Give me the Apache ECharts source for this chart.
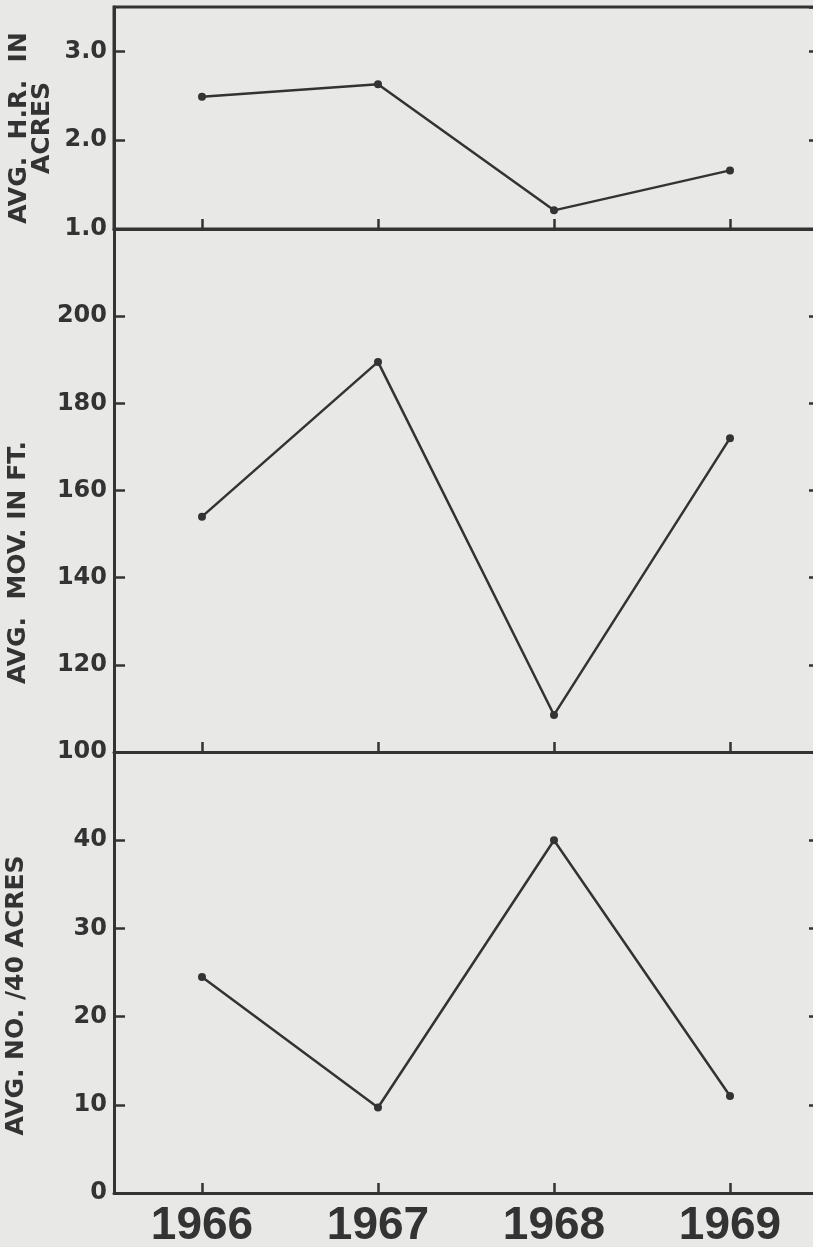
<!DOCTYPE html>
<html>
<head>
<meta charset="utf-8">
<script src="https://cdn.jsdelivr.net/npm/echarts@6/dist/echarts.min.js"></script>
<style>
html, body { margin: 0; padding: 0; background: #e8e8e6; }
#chart { width: 813px; height: 1247px; }
</style>
</head>
<body>
<div id="chart"></div>
<script>
// years on the shared x axis
var years = ['1966', '1967', '1968', '1969'];
// avg home range in acres
var homeRange = [2.49, 2.63, 1.21, 1.66];
// avg movement in ft.
var movement = [154, 189.5, 108.5, 172];
// avg number per 40 acres
var numPer40 = [24.5, 9.7, 40, 11];

var ink = '#333333';

function xAx(grid, showLabel) {
	return {
		type: 'category',
		gridIndex: grid,
		data: years,
		boundaryGap: true,
		axisLine: { lineStyle: { color: ink, width: 3 } },
		axisTick: { show: true, inside: true, alignWithLabel: true, length: 10, lineStyle: { color: ink, width: 2.5 } },
		axisLabel: {
			show: showLabel,
			color: ink,
			fontFamily: 'Liberation Sans',
			fontWeight: 'bold',
			fontSize: 46,
			margin: 10
		},
		splitLine: { show: false }
	};
}

function yAx(grid, min, max, step, digits, name, gap, pad) {
	return {
		type: 'value',
		gridIndex: grid,
		min: min,
		max: max,
		interval: step,
		name: name,
		nameLocation: 'middle',
		nameGap: gap,
		nameMoveOverlap: false,
		nameTextStyle: {
			color: ink,
			fontFamily: 'DejaVu Sans',
			fontWeight: 'bold',
			fontSize: 25,
			lineHeight: 23,
			padding: pad
		},
		axisLine: { show: true, lineStyle: { color: ink, width: 3 } },
		axisTick: { show: true, inside: true, length: 11, lineStyle: { color: ink, width: 2.5 } },
		axisLabel: {
			color: ink,
			fontFamily: 'DejaVu Sans',
			fontWeight: 'bold',
			fontSize: 24,
			margin: 7,
			showMaxLabel: false,
			formatter: function (v) { return v.toFixed(digits); }
		},
		splitLine: { show: false }
	};
}

function yRight(grid, min, max, step) {
	return {
		type: 'value',
		gridIndex: grid,
		position: 'right',
		min: min,
		max: max,
		interval: step,
		axisLine: { show: true, lineStyle: { color: ink, width: 3 } },
		axisTick: { show: true, inside: true, length: 9, lineStyle: { color: ink, width: 2.5 } },
		axisLabel: { show: false },
		splitLine: { show: false }
	};
}

function lineSeries(x, y, data) {
	return {
		type: 'line',
		xAxisIndex: x,
		yAxisIndex: y,
		data: data,
		symbol: 'circle',
		symbolSize: 8,
		itemStyle: { color: ink },
		lineStyle: { color: ink, width: 2.5 },
		silent: true,
		z: 3
	};
}

var myChart = echarts.init(document.getElementById('chart'));
myChart.setOption({
	backgroundColor: '#e8e8e6',
	animation: false,
	grid: [
		{ left: 114, width: 704, top: 7, height: 222, containLabel: false, outerBoundsMode: 'none', show: true, borderColor: ink, borderWidth: 3, backgroundColor: 'transparent' },
		{ left: 114, width: 704, top: 229, height: 523, containLabel: false, outerBoundsMode: 'none' },
		{ left: 114, width: 704, top: 752, height: 441, containLabel: false, outerBoundsMode: 'none' }
	],
	xAxis: [xAx(0, false), xAx(1, false), xAx(2, true)],
	yAxis: [
		yAx(0, 1, 3.5, 1, 1, 'AVG.  H.R.  IN\nACRES', 60, [0, 20, 0, 0]),
		yAx(1, 100, 220, 20, 0, 'AVG.  MOV. IN FT.', 84, [0, 144, 0, 0]),
		yAx(2, 0, 50, 10, 0, 'AVG. NO. /40 ACRES', 86, [0, 46, 0, 0]),
		yRight(0, 1, 3.5, 1),
		yRight(1, 100, 220, 20),
		yRight(2, 0, 50, 10)
	],
	series: [
		lineSeries(0, 0, homeRange),
		lineSeries(1, 1, movement),
		lineSeries(2, 2, numPer40)
	]
});
</script>
</body>
</html>
